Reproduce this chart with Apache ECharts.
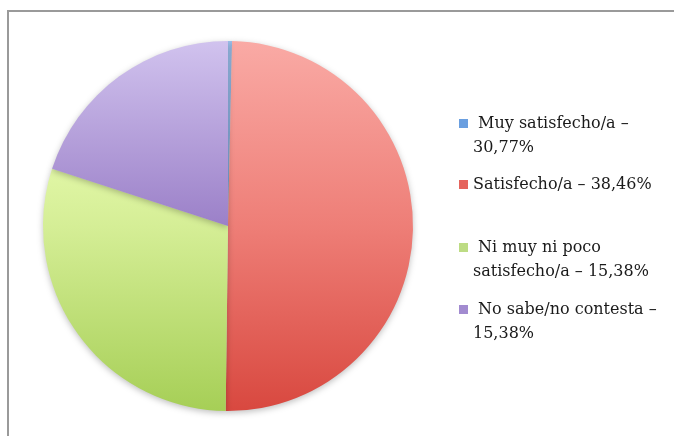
<!DOCTYPE html>
<html>
<head>
<meta charset="utf-8">
<script src="https://cdn.jsdelivr.net/npm/echarts@6/dist/echarts.min.js"></script>
<style>
  html, body { margin: 0; padding: 0; background: #fff; }
  #chart { position: absolute; left: 0; top: 0; width: 674px; height: 436px; }
  #frame { position: absolute; left: 7px; top: 10px; width: 700px; height: 500px;
           border-left: 2px solid #9a9a9a; border-top: 2px solid #9a9a9a; pointer-events: none; }
</style>
</head>
<body>
<div id="chart"></div>
<div id="frame"></div>
<script>
const categories = [
  ' Muy satisfecho/a –\n30,77%',
  'Satisfecho/a – 38,46%',
  ' Ni muy ni poco\nsatisfecho/a – 15,38%',
  ' No sabe/no contesta –\n15,38%'
];
// slice sizes as drawn in the picture (percent of the circle)
const values = [0.35, 49.85, 29.8, 20.0];
const legendColors = ['#6a9fe0', '#e5645d', '#bddc84', '#a28bd0'];

function grad(stops) {
  return { type: 'linear', x: 0, y: 37, x2: 0, y2: 415, global: true,
    colorStops: stops.map(s => ({ offset: s[0], color: s[1] })) };
}
const sliceColors = [
  grad([[0, '#9fc4f0'], [1, '#6a9be0']]),
  grad([[0, '#faaba6'], [0.5, '#ee7e77'], [1, '#d8473e']]),
  grad([[0, '#e8fbb4'], [0.35, '#e0f6a5'], [0.5, '#d5ee96'], [1, '#a5ce55']]),
  grad([[0, '#d2c4ef'], [0.5, '#9b80c8'], [1, '#7c60b2']])
];

const chart = echarts.init(document.getElementById('chart'));
const LH = 24;
const textBase = { fontFamily: 'DejaVu Serif', fontSize: 16, color: '#1a1a1a', lineHeight: LH };
// square on the first line of a two-line label: path whose bbox spans both lines
const topSquare = 'path://M0,7.5H9V16.5H0Z M0,0L9,0 M0,48L9,48';
const legendTops = [111.5, 172.5, 235.5, 297.5];
const legends = categories.map((name, i) => {
  const twoLine = name.indexOf('\n') >= 0;
  return {
    left: 459, top: legendTops[i], padding: 0, orient: 'vertical',
    itemWidth: 9, itemHeight: twoLine ? 2 * LH : 9,
    icon: twoLine ? topSquare : 'rect', selectedMode: false,
    data: [{ name: name, itemStyle: { color: legendColors[i], borderWidth: 0 } }],
    textStyle: textBase
  };
});

chart.setOption({
  animation: false,
  legend: legends,
  series: [{
    type: 'pie',
    center: [228, 226],
    radius: 185,
    startAngle: 90,
    clockwise: true,
    label: { show: false },
    labelLine: { show: false },
    emphasis: { disabled: true },
    itemStyle: { borderWidth: 0, shadowBlur: 6, shadowColor: 'rgba(0,0,0,0.25)', shadowOffsetY: 2 },
    data: categories.map((name, i) => ({ name: name, value: values[i], itemStyle: { color: sliceColors[i] } }))
  }]
});
</script>
</body>
</html>
